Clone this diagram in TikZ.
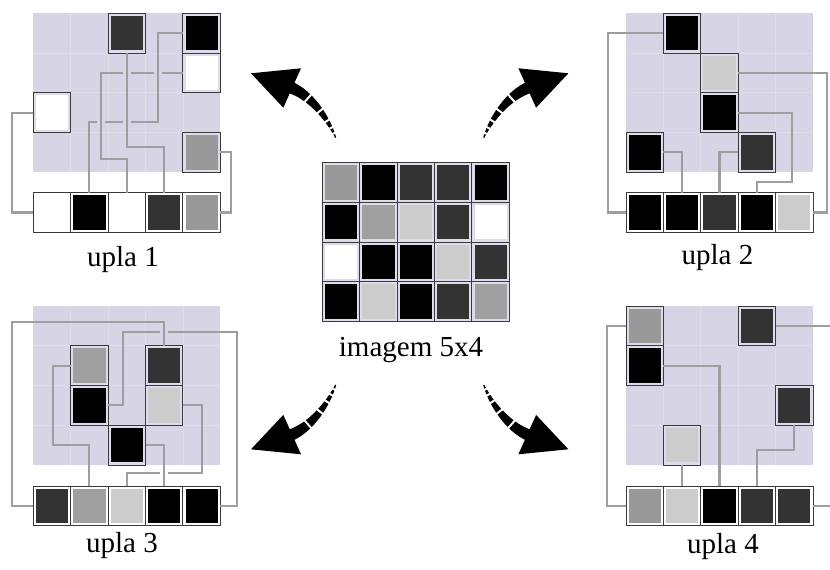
\documentclass[tikz,border=0pt]{standalone}
\usepackage{fontspec}
\setmainfont{Liberation Serif}
\usetikzlibrary{calc,decorations.markings}

\definecolor{bgl}{HTML}{D7D4E6}
\definecolor{gline}{HTML}{E0DEEA}
\definecolor{ring}{HTML}{DEDCEA}
\definecolor{cline}{HTML}{3A3A3A}
\definecolor{conn}{HTML}{9E9E9E}
\definecolor{dk}{HTML}{333333}
\definecolor{gA}{HTML}{A0A0A0}
\definecolor{g9}{HTML}{999999}
\definecolor{lt}{HTML}{CCCCCC}

\tikzset{
  cellbase/.style={draw=cline, line width=0.9pt, minimum width=37.4pt,
    minimum height=39.7pt, inner sep=0pt, outer sep=0pt},
  gcell/.style={cellbase, fill=ring, path picture={
    \fill[#1] ($(path picture bounding box.south west)+(2.6pt,2.6pt)$)
      rectangle ($(path picture bounding box.north east)-(2.6pt,2.6pt)$);}},
  tcell/.style={cellbase, fill=white, path picture={
    \fill[#1] ($(path picture bounding box.south west)+(2.6pt,2.6pt)$)
      rectangle ($(path picture bounding box.north east)-(2.6pt,2.6pt)$);}},
  wire/.style={draw=conn, line width=2.1pt},
  lbl/.style={font=\fontsize{29}{34}\selectfont, anchor=base, inner sep=0pt},
  gapmark/.style={postaction={decorate}, decoration={markings,
    mark=at position 0.07 with {\fill[white] (-1pt,-10pt) rectangle (1pt,10pt);},
    mark=at position 0.16 with {\fill[white] (-1pt,-10pt) rectangle (1pt,10pt);},
    mark=at position 0.28 with {\fill[white] (-1pt,-10pt) rectangle (1pt,10pt);},
    mark=at position 0.46 with {\fill[white] (-1pt,-10pt) rectangle (1pt,10pt);},
    mark=at position 0.72 with {\fill[white] (-1pt,-10pt) rectangle (1pt,10pt);}}}
}

% lavender 5x4 board with faint cell lines
\newcommand\gridback[2]{%
  \fill[bgl] (#1,#2) rectangle ++(187,159);
  \foreach \i in {1,...,4} \draw[gline, line width=0.8pt] ({#1+\i*37.4},#2) -- ++(0,159);
  \foreach \j in {1,2,3} \draw[gline, line width=0.8pt] (#1,{#2+\j*39.75}) -- ++(187,0);
}

% curved arrow with a tapering, broken tail
\newcommand\bentarrow{%
  \fill (336.2,137.5) .. controls (330.7,117.8) and (314,90.8) .. (291.4,81.4)
    -- (287.4,92.6) .. controls (308,98.8) and (325.9,120.4) .. (335.2,137.9) -- cycle;
  \fill (251,73.3) -- (301,68.3) -- (283.3,107.7) -- cycle;
  \path[gapmark] (335.7,137.7) .. controls (328.3,119.1) and (311,94.8) .. (292.2,88);
}

\begin{document}
\begin{tikzpicture}[x=1pt, y=-1pt]
\useasboundingbox (0,0) rectangle (830,570);
\clip (0,0) rectangle (830,570);
\fill[white] (0,0) rectangle (830,570);

% boards
\gridback{33.3}{13.2}
\gridback{626}{13.2}
\gridback{33.3}{306}
\gridback{626}{306}

% ---- tuple 1 ----
\node[gcell=dk]    (a31) at (126.8,33.1) {};
\node[gcell=black] (a51) at (201.6,33.1) {};
\node[gcell=white] (a52) at (201.6,72.8) {};
\node[gcell=white] (a13) at (52.0,112.6) {};
\node[gcell=g9]    (a54) at (201.6,152.4) {};
\node[tcell=white] (ta1) at (52.0,212.5) {};
\node[tcell=black] (ta2) at (89.4,212.5) {};
\node[tcell=white] (ta3) at (126.8,212.5) {};
\node[tcell=dk]    (ta4) at (164.2,212.5) {};
\node[tcell=g9]    (ta5) at (201.6,212.5) {};

\draw[wire] (a13.west) -- ++(-21,0) |- (ta1.west);
\draw[wire] (ta2.north) |- (97,122.3);
\draw[wire] (105,122.3) -- (122.8,122.3);
\draw[wire] (130.8,122.3) -- (158.3,122.3) |- (a51.west);
\draw[wire] (a52.west) -- (162.3,72.8);
\draw[wire] (154.3,72.8) -- (130.8,72.8);
\draw[wire] (122.8,72.8) -- (101,72.8) |- (126.8,159) -- (ta3.north);
\draw[wire] (a31.south) |- (164.2,146.7) -- (ta4.north);
\draw[wire] (a54.east) -- ++(11,0) |- (ta5.east);

% ---- tuple 2 ----
\node[gcell=black] (b21) at (682.1,33.1) {};
\node[gcell=lt]    (b32) at (719.5,72.8) {};
\node[gcell=black] (b33) at (719.5,112.6) {};
\node[gcell=black] (b14) at (644.7,152.4) {};
\node[gcell=dk]    (b44) at (756.9,152.4) {};
\node[tcell=black] (tb1) at (644.7,212.5) {};
\node[tcell=black] (tb2) at (682.1,212.5) {};
\node[tcell=dk]    (tb3) at (719.5,212.5) {};
\node[tcell=black] (tb4) at (756.9,212.5) {};
\node[tcell=lt]    (tb5) at (794.3,212.5) {};

\draw[wire] (b21.west) -- ++(-55,0) |- (tb1.west);
\draw[wire] (b14.east) -| (tb2.north);
\draw[wire] (b44.west) -| (tb3.north);
\draw[wire] (b33.east) -| (791.7,181.7) -| (tb4.north);
\draw[wire] (b32.east) -- (826.7,72.8) |- (tb5.east);

% ---- tuple 3 ----
\node[gcell=gA]    (c22) at (89.4,365.6) {};
\node[gcell=dk]    (c42) at (164.2,365.6) {};
\node[gcell=black] (c23) at (89.4,405.4) {};
\node[gcell=lt]    (c43) at (164.2,405.4) {};
\node[gcell=black] (c34) at (126.8,445.1) {};
\node[tcell=dk]    (tc1) at (52.0,506) {};
\node[tcell=gA]    (tc2) at (89.4,506) {};
\node[tcell=lt]    (tc3) at (126.8,506) {};
\node[tcell=black] (tc4) at (164.2,506) {};
\node[tcell=black] (tc5) at (201.6,506) {};

\draw[wire] (c42.north) |- (11.7,321.7) |- (tc1.west);
\draw[wire] (c22.west) -| (53.3,445) -| (tc2.north);
\draw[wire] (c43.east) -| (202.3,473.3) -- (168.2,473.3);
\draw[wire] (160.2,473.3) -| (tc3.north);
\draw[wire] (c34.east) -| (tc4.north);
\draw[wire] (c23.east) -| (122.7,331.7) -- (160.2,331.7);
\draw[wire] (168.2,331.7) -- (236.7,331.7) |- (tc5.east);

% ---- tuple 4 ----
\node[gcell=g9]    (d11) at (644.7,325.9) {};
\node[gcell=dk]    (d41) at (756.9,325.9) {};
\node[gcell=black] (d12) at (644.7,365.6) {};
\node[gcell=dk]    (d53) at (794.3,405.4) {};
\node[gcell=lt]    (d24) at (682.1,445.1) {};
\node[tcell=g9]    (td1) at (644.7,506) {};
\node[tcell=lt]    (td2) at (682.1,506) {};
\node[tcell=black] (td3) at (719.5,506) {};
\node[tcell=dk]    (td4) at (756.9,506) {};
\node[tcell=dk]    (td5) at (794.3,506) {};

\draw[wire] (d11.west) -- ++(-19.3,0) |- (td1.west);
\draw[wire] (d24.south) -- (td2.north);
\draw[wire] (d12.east) -| (td3.north);
\draw[wire] (d53.south) -- ++(0,24.8) -| (td4.north);
\draw[wire] (d41.east) -- ++(70,0) |- (td5.east);

% ---- source image ----
\foreach \c/\r/\col in {1/1/g9, 2/1/black, 3/1/dk, 4/1/dk, 5/1/black,
                        1/2/black, 2/2/gA, 3/2/lt, 4/2/dk, 5/2/white,
                        1/3/white, 2/3/black, 3/3/black, 4/3/lt, 5/3/dk,
                        1/4/black, 2/4/lt, 3/4/black, 4/4/dk, 5/4/gA}
  \node[gcell=\col, minimum height=39.85pt] (m\c\r) at ({322.3+(\c-0.5)*37.4},{162.3+(\r-0.5)*39.85}) {};

% captions
\node[lbl] (cap1) at (123,266) {upla 1};
\node[lbl] (cap2) at (717.5,264) {upla 2};
\node[lbl] (cap3) at (122,552) {upla 3};
\node[lbl] (cap4) at (723,553) {upla 4};
\node[lbl] (capm) at (411,356) {imagem 5x4};

% arrows
\bentarrow
\begin{scope}[shift={(819.4,0)}, xscale=-1]
  \bentarrow
\end{scope}
\begin{scope}[shift={(0,522.6)}, yscale=-1]
  \bentarrow
\end{scope}
\begin{scope}[shift={(819.4,522.6)}, xscale=-1, yscale=-1]
  \bentarrow
\end{scope}
\end{tikzpicture}
\end{document}
